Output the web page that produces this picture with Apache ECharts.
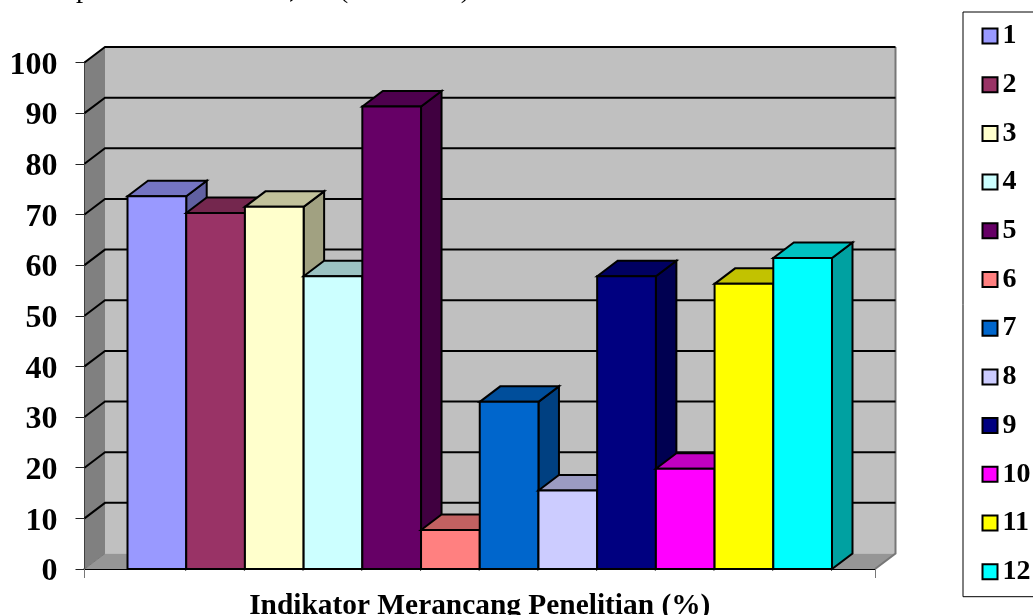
<!DOCTYPE html>
<html>
<head>
<meta charset="utf-8">
<style>html,body{margin:0;padding:0;background:#fff;overflow:hidden}#chart{width:1033px;height:615px}</style>
<script src="https://cdn.jsdelivr.net/npm/echarts@6/dist/echarts.min.js"></script>
</head>
<body>
<div id="chart"></div>
<script>
// Data
const indicators = ['1','2','3','4','5','6','7','8','9','10','11','12'];
const percentages = [73.6,70.3,71.5,57.8,91.3,7.7,33,15.5,57.8,19.8,56.3,61.4];
const barColors = ['#9999ff','#993366','#ffffcc','#ccffff','#660066','#ff8080','#0066cc','#ccccff','#000080','#ff00ff','#ffff00','#00ffff'];
const yTicks = [0,10,20,30,40,50,60,70,80,90,100];
const axisTitle = 'Indikator Merancang Penelitian (%)';

// Extrusion of the pseudo-3D scene, and the empty share of the band at each end
const DX = 20.5, DY = 15.5, END_GAP = 0.0544;
const FONT = '"Liberation Serif","Times New Roman",serif';

function poly(points, fill, stroke, lineWidth) {
  return { type: 'polygon', shape: { points },
    style: { fill, stroke: stroke || 'none', lineWidth: lineWidth || 0, lineJoin: 'miter' } };
}

// Darken a colour by multiplying its channels
function shade(color, factor) {
  const [r, g, b] = echarts.color.parse(color);
  return `rgb(${Math.round(r * factor)},${Math.round(g * factor)},${Math.round(b * factor)})`;
}

// Back wall, side wall, floor and gridlines
function renderWall(params, api) {
  const bandW = api.size([1, 0])[0];
  const cx = api.coord([0, 0])[0];
  const l = cx - bandW / 2, r = cx + bandW / 2;
  const y = api.coord([0, api.value(1)])[1];
  const children = [];
  if (api.value(1) === yTicks[0]) {
    const top = api.coord([0, yTicks[yTicks.length - 1]])[1];
    children.push(poly([[l + DX, top - DY], [r + DX, top - DY], [r + DX, y - DY], [l + DX, y - DY]], '#c0c0c0'));
    children.push(poly([[l, top], [l + DX, top - DY], [l + DX, y - DY], [l, y]], '#808080'));
    children.push(poly([[l, y], [l + DX, y - DY], [r + DX, y - DY], [r, y]], '#969696'));
    children.push({ type: 'polyline', shape: { points: [[r + DX, top - DY], [r + DX, y - DY], [r, y]] },
      style: { fill: 'none', stroke: '#777', lineWidth: 2 } });
    children.push({ type: 'line', shape: { x1: l, y1: y, x2: l + DX, y2: y - DY },
      style: { stroke: '#777', lineWidth: 1 } });
  } else {
    children.push({ type: 'polyline', shape: { points: [[l, y], [l + DX, y - DY], [r + DX, y - DY]] },
      style: { fill: 'none', stroke: '#000', lineWidth: 2 } });
  }
  return { type: 'group', children };
}

// One extruded column: front face, top and right side in shaded tones
function barRenderer(index) {
  return function (params, api) {
    const bandW = api.size([1, 0])[0];
    const cx = api.coord([0, 0])[0];
    const barW = bandW * (1 - 2 * END_GAP) / indicators.length;
    const x0 = cx - bandW / 2 + bandW * END_GAP + index * barW;
    const x1 = x0 + barW;
    const yb = api.coord([0, 0])[1];
    const yt = api.coord([0, api.value(1)])[1];
    const c = barColors[index];
    return { type: 'group', children: [
      poly([[x1, yt], [x1 + DX, yt - DY], [x1 + DX, yb - DY], [x1, yb]], shade(c, 0.63), '#000', 2),
      poly([[x0, yt], [x0 + DX, yt - DY], [x1 + DX, yt - DY], [x1, yt]], shade(c, 0.76), '#000', 2),
      poly([[x0, yt], [x1, yt], [x1, yb], [x0, yb]], c, '#000', 2)
    ] };
  };
}

const series = [{
  type: 'custom', name: 'dinding', silent: true, clip: false, z: 1,
  renderItem: renderWall,
  data: yTicks.map(t => [0, t]),
  encode: { x: 0, y: 1 }
}].concat(indicators.map((name, i) => ({
  type: 'custom', name, clip: false, z: 2,
  renderItem: barRenderer(i),
  itemStyle: { color: barColors[i] },
  data: [[0, percentages[i]]],
  encode: { x: 0, y: 1 }
})));

const chart = echarts.init(document.getElementById('chart'), null, { renderer: 'canvas' });
chart.setOption({
  animation: false,
  backgroundColor: '#fff',
  textStyle: { fontFamily: FONT },
  grid: { left: 84.5, right: 158, top: 62.5, bottom: 46, containLabel: false, outerBoundsMode: 'none' },
  xAxis: {
    type: 'category', data: [''],
    name: axisTitle, nameLocation: 'middle', nameGap: 23,
    nameTextStyle: { fontFamily: FONT, fontWeight: 'bold', fontSize: 29.4, color: '#000' },
    axisLine: { show: true, lineStyle: { color: '#000', width: 2 } },
    axisTick: { show: true, length: 9, lineStyle: { color: '#777', width: 1 } },
    axisLabel: { show: false }
  },
  yAxis: {
    type: 'value', min: 0, max: 100, interval: 10,
    axisLine: { show: true, lineStyle: { color: '#000', width: 2 } },
    axisTick: { show: true, length: 9, lineStyle: { color: '#222', width: 1 } },
    axisLabel: {
      margin: 27, color: '#000',
      formatter: '{v|{value}}',
      rich: { v: { fontFamily: FONT, fontWeight: 'bold', fontSize: 32, color: '#000', padding: [6, 0, 0, 0] } }
    },
    splitLine: { show: false }
  },
  legend: {
    data: indicators,
    orient: 'vertical', left: 963, top: 12,
    padding: [10, 40, 11, 18.5],
    backgroundColor: '#fff', borderColor: '#000', borderWidth: 1,
    icon: 'rect', itemWidth: 15, itemHeight: 15, itemGap: 20.7,
    selectedMode: false,
    itemStyle: { borderColor: '#000', borderWidth: 2 },
    textStyle: { fontFamily: FONT, fontWeight: 'bold', fontSize: 28, color: '#000' }
  },
  graphic: [{
    type: 'text', left: 28, top: -24, silent: true,
    style: { text: 'dan potetsis sebesar 67, 46 (Gambar 4).', font: '28.4px ' + FONT, fill: '#000' }
  }],
  series
});
</script>
</body>
</html>
